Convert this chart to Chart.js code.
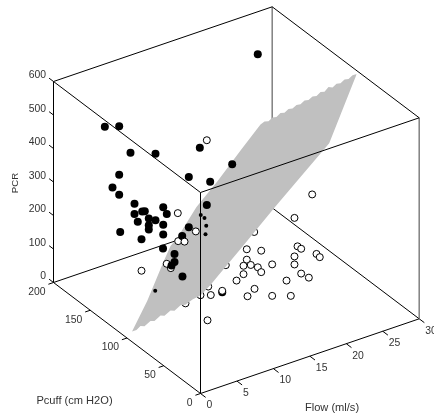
<!DOCTYPE html>
<html>
<head>
<meta charset="utf-8">
<title>PCR surface</title>
<script src="https://cdn.jsdelivr.net/npm/chart.js@4"></script>
<style>
  html, body { margin: 0; padding: 0; background: #fff; overflow: hidden; }
  canvas { display: block; }
</style>
</head>
<body>
<canvas id="chartOne" width="434" height="416"></canvas>
<script>
const flowTicks = [0, 5, 10, 15, 20, 25, 30];
const pcuffTicks = [0, 50, 100, 150, 200];
const pcrTicks = [0, 100, 200, 300, 400, 500, 600];

// points above the fitted surface
const filledFlow = [2.00, 3.97, 5.52, 8.95, 15.03, 13.52, 16.45, 3.97, 3.05, 3.97, 6.07, 10.01, 15.99, 22.98, 19.47, 6.07, 7.13, 7.48, 10.5, 8.03, 8.95, 6.52, 10.01, 8.03, 8.03, 10.01, 4.11, 7.03, 9.98, 13.52, 12.61, 11.56, 11.56, 11.15, 12.65, 9.03];
const filledPcuff = [150, 150, 150, 150, 150, 150, 150, 150, 150, 150, 150, 150, 150, 150, 150, 150, 150, 150, 150, 150, 150, 150, 150, 150, 150, 150, 150, 150, 150, 150, 150, 150, 150, 150, 150, 60];
const filledPcr = [533, 520, 429, 401, 373, 297, 261, 375, 344, 315, 273, 233, 195, 593, 291, 242, 242, 240, 209, 214, 202, 216, 181, 194, 181, 152, 203, 160, 110, 147, 128, 82, 58, 51, 7, 136];

// filled points that poke only partly through the mesh
const buriedFlow = [15.16, 15.67, 15.91, 15.81, 3.87];
const buriedPcuff = [150, 150, 150, 150, 100];
const buriedPcr = [172, 159, 134, 109, 112];

// points below the surface
const openFlow = [21.37, 18.94, 12.4, 14.38, 19.36, 19.86, 18.94, 21.96, 22.41, 12.4, 11.95, 12.95, 13.91, 14.38, 15.88, 18.94, 19.86, 20.91, 17.85, 11.95, 10.99, 13.46, 9.03, 12.5, 15.88, 18.44, 7.46, 7.01, 10.95, 6.97, 9.44, 7.89, 1.99];
const openPcuff = [60, 60, 60, 60, 60, 60, 60, 60, 60, 60, 60, 60, 60, 60, 60, 60, 60, 60, 60, 60, 60, 60, 60, 60, 60, 60, 60, 60, 100, 100, 100, 100, 100];
const openPcr = [336, 284, 239, 220, 196, 185, 169, 154, 141, 208, 193, 188, 174, 156, 168, 145, 111, 91, 105, 168, 156, 113, 140, 98, 74, 55, 139, 67, 509, 321, 248, 229, 186];

// open points overlapped by the filled ones
const overlappedFlow = [5.45, 6.01, 7.02];
const overlappedPcuff = [100, 100, 100];
const overlappedPcr = [181, 164, 237];

// open points hidden in part behind the surface
const hiddenFlow = [6.05, 3.99, 7.11, 9.52, 13.42];
const hiddenPcuff = [60, 60, 60, 60, 60];
const hiddenPcr = [149, 140, 167, 213, 283];

// outline of the surface, read along both edges
const upperFlow = [0.69, 2.77, 5.05, 5.97, 6.89, 9.53, 12.41, 15.57, 18.31, 18.86, 19.41, 19.96, 20.50, 21.05, 21.60, 22.15, 22.70, 23.25, 23.80, 24.35, 24.90, 25.45, 26.00, 26.55, 27.09, 27.64, 28.19, 28.74, 29.29, 29.84, 30.39, 30.94, 31.51];
const upperPcr = [14, 90, 192, 230, 247, 320, 376, 444, 501, 506, 503, 510, 507.5, 515, 512, 519, 516, 523, 520.5, 528, 525, 532, 529, 537, 534, 544, 538, 545, 543, 550, 547, 554, 554];
const lowerFlow = [0.69, 1.30, 1.85, 2.40, 3.22, 3.77, 4.60, 5.14, 5.97, 6.52, 7.34, 8.02, 8.98, 10.08, 11.45, 12.41, 15.57, 20.19, 23.80, 27.74, 29.29, 31.51];
const lowerPcr = [14, 14, 22, 17, 27, 23, 33, 28, 38, 33, 43, 40, 48, 52, 73, 91, 150, 238, 304, 375, 449, 554];
const surfacePcuff = 100;

const flowMax = 30, pcuffMax = 200, pcrMax = 600;

// oblique view of the box, flattened onto the x/y scales below
function project(flow, pcuff, pcr) {
  return {
    x: 200.5 + 7.29 * flow - 0.735 * pcuff,
    y: 393.5 - 2.49 * flow - 0.555 * pcuff - 0.335 * pcr
  };
}

function edge(a, b, color, width, order) {
  return {
    data: [project(a[0], a[1], a[2]), project(b[0], b[1], b[2])],
    borderColor: color,
    borderWidth: width,
    pointRadius: 0,
    fill: false,
    order: order
  };
}

function scatter(flow, pcuff, pcr, radius, fillColor, lineWidth, order) {
  return {
    data: flow.map((f, i) => project(f, pcuff[i], pcr[i])),
    showLine: false,
    pointRadius: radius,
    pointBackgroundColor: fillColor,
    pointBorderColor: '#000',
    pointBorderWidth: lineWidth,
    order: order
  };
}

const datasets = [
  // top and left of the box
  edge([0, pcuffMax, pcrMax], [flowMax, pcuffMax, pcrMax], '#000', 1, 3),
  edge([0, pcuffMax, pcrMax], [0, 0, pcrMax], '#000', 1, 3),
  edge([0, 0, pcrMax], [flowMax, 0, pcrMax], '#000', 1, 3),
  edge([flowMax, pcuffMax, pcrMax], [flowMax, 0, pcrMax], '#000', 1, 3),
  edge([0, pcuffMax, 0], [0, pcuffMax, pcrMax], '#000', 1, 3),
  edge([0, 0, 0], [0, 0, pcrMax], '#000', 1, 3),
  edge([0, pcuffMax, 0], [0, 0, 0], '#000', 1, 3),
  edge([0, 0, 0], [flowMax, 0, 0], '#000', 1, 3),
  edge([flowMax, 0, 0], [flowMax, 0, pcrMax], '#808080', 1.5, 3),
  // behind the surface
  edge([0, pcuffMax, 0], [flowMax, pcuffMax, 0], '#000', 1, 7),
  edge([flowMax, pcuffMax, 0], [flowMax, 0, 0], '#000', 1, 7),
  edge([flowMax, pcuffMax, 0], [flowMax, pcuffMax, pcrMax], '#808080', 1.5, 7),
  scatter(hiddenFlow, hiddenPcuff, hiddenPcr, 3.5, '#fff', 1, 6),
  // the surface: filled from its upper outline down to the lower one
  {
    data: upperFlow.map((f, i) => project(f, surfacePcuff, upperPcr[i])),
    borderWidth: 0,
    pointRadius: 0,
    backgroundColor: '#c0c0c0',
    fill: '+1',
    order: 5
  },
  {
    data: lowerFlow.map((f, i) => project(f, surfacePcuff, lowerPcr[i])),
    borderWidth: 0,
    pointRadius: 0,
    fill: false,
    order: 5
  },
  scatter(overlappedFlow, overlappedPcuff, overlappedPcr, 3.5, '#fff', 1, 4),
  scatter(buriedFlow, buriedPcuff, buriedPcr, 2, '#000', 0, 2),
  scatter(filledFlow, filledPcuff, filledPcr, 4, '#000', 0, 2),
  scatter(openFlow, openPcuff, openPcr, 3.5, '#fff', 1, 1)
];

// tick marks
pcrTicks.forEach(v => datasets.push(edge([0, pcuffMax, v], [0, pcuffMax + 6, v], '#000', 1, 3)));
pcuffTicks.forEach(v => datasets.push(edge([0, v, 0], [-0.7, v, 0], '#000', 1, 3)));
flowTicks.forEach(v => datasets.push(edge([v, 0, 0], [v, -7, 0], '#000', 1, 3)));

const axisText = {
  id: 'axisText',
  afterDraw(chart) {
    const ctx = chart.ctx;
    const px = p => ({ x: chart.scales.x.getPixelForValue(p.x), y: chart.scales.y.getPixelForValue(p.y) });
    ctx.save();
    ctx.font = '10.4px "Liberation Sans", Arial, sans-serif';
    ctx.fillStyle = '#333';
    ctx.textBaseline = 'middle';

    ctx.textAlign = 'right';
    pcrTicks.forEach(v => {
      const p = px(project(0, pcuffMax, v));
      ctx.fillText(String(v), p.x - 7.5, p.y - 6);
    });
    pcuffTicks.forEach(v => {
      const p = px(project(0, v, 0));
      ctx.fillText(String(v), p.x - 8, p.y + 9.5);
    });

    ctx.textAlign = 'left';
    flowTicks.forEach(v => {
      const p = px(project(v, 0, 0));
      ctx.fillText(String(v), p.x + 6, p.y + 12);
    });

    ctx.textAlign = 'center';
    ctx.font = '11.1px "Liberation Sans", Arial, sans-serif';
    ctx.fillText('Pcuff (cm H2O)', 74.5, 400.5);
    ctx.fillText('Flow (ml/s)', 332, 408);
    ctx.font = '9.6px "Liberation Sans", Arial, sans-serif';
    ctx.translate(15, 183);
    ctx.rotate(-Math.PI / 2);
    ctx.fillText('PCR', 0, 0);
    ctx.restore();
  }
};

new Chart(document.getElementById('chartOne'), {
  type: 'line',
  data: { datasets: datasets },
  options: {
    animation: false,
    responsive: false,
    layout: { padding: 0, autoPadding: false },
    elements: { line: { tension: 0 } },
    scales: {
      x: { type: 'linear', display: false, min: 0, max: 434 },
      y: { type: 'linear', display: false, min: 0, max: 416, reverse: true }
    },
    plugins: {
      legend: { display: false },
      title: { display: false },
      tooltip: { enabled: false }
    }
  },
  plugins: [axisText]
});
</script>
</body>
</html>
